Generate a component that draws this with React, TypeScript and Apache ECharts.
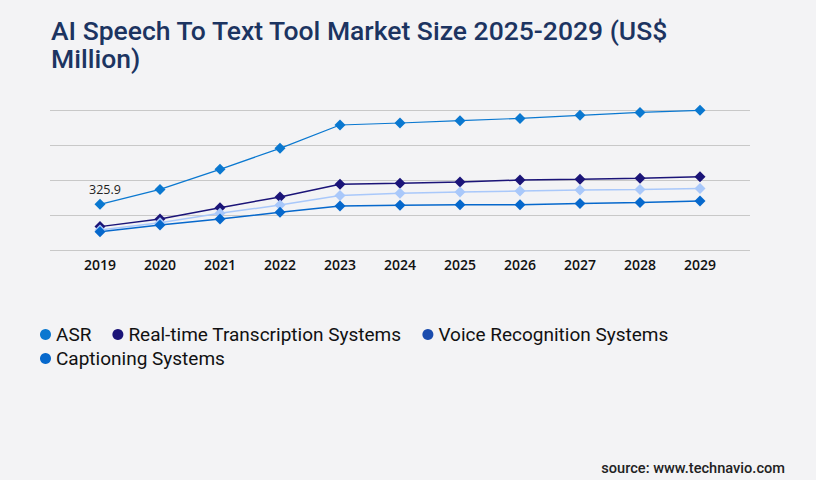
import React, { useEffect, useRef } from "react";
import * as echarts from "echarts";

const years = ["2019", "2020", "2021", "2022", "2023", "2024", "2025", "2026", "2027", "2028", "2029"];
const asr = [325.9, 433, 576, 726, 893, 907, 924, 940, 962, 983, 998];
const realTime = [167, 221, 302, 379, 469, 476, 486, 500, 505, 512, 524];
const voice = [143, 195, 262, 321, 390, 405, 414, 421, 429, 433, 440];
const captioning = [131, 179, 221, 269, 314, 319, 324, 324, 333, 340, 350];
const yTicks = [0, 250, 500, 750, 1000];

const seriesNames = ["ASR", "Real-time Transcription Systems", "Voice Recognition Systems", "Captioning Systems"];
const lineColors = ["#0a78d0", "#1b1478", "#a9c8fa", "#0668cc"];
const legendColors = ["#0a78d0", "#1b1478", "#1a4cae", "#0668cc"];

export default function App() {
  const ref = useRef<HTMLDivElement>(null);
  useEffect(() => {
    if (!ref.current) return;
    const chart = echarts.init(ref.current, undefined, { renderer: "svg" });
    const values = [asr, realTime, voice, captioning];
    const series = values.map((vals, i) => ({
      name: seriesNames[i],
      type: "line",
      xAxisIndex: 1,
      yAxisIndex: 1,
      symbol: "diamond",
      symbolSize: 11,
      lineStyle: { width: i === 0 ? 1.2 : 1.5, color: lineColors[i] },
      itemStyle: { color: lineColors[i] },
      data: vals.map((v, j) =>
        i === 0 && j === 0
          ? {
              value: v,
              label: {
                show: true,
                position: "top",
                distance: 3,
                offset: [5, 0],
                fontFamily: "Open Sans",
                fontSize: 12.5,
                color: "#222",
              },
            }
          : v
      ),
    }));
    const legendText = { fontFamily: "Roboto", fontSize: 19, color: "#111" };
    chart.setOption({
      animation: false,
      backgroundColor: "#f3f3f5",
      title: [
        {
          text: "AI Speech To Text Tool Market Size 2025-2029 (US$\nMillion)",
          left: 46,
          top: 11,
          textStyle: {
            fontFamily: "Roboto",
            fontSize: 26.5,
            fontWeight: 500,
            color: "#1c3461",
            lineHeight: 28,
          },
        },
        {
          text: "source: www.technavio.com",
          right: 26,
          top: 455,
          textStyle: { fontFamily: "Roboto", fontSize: 14.6, fontWeight: 500, color: "#222" },
        },
      ],
      legend: [
        {
          data: seriesNames.slice(0, 3).map((n, i) => ({ name: n, itemStyle: { color: legendColors[i] } })),
          left: 35,
          top: 320,
          icon: "circle",
          itemWidth: 11,
          itemHeight: 11,
          itemGap: 21,
          textStyle: legendText,
        },
        {
          data: [{ name: seriesNames[3], itemStyle: { color: legendColors[3] } }],
          left: 35,
          top: 344,
          icon: "circle",
          itemWidth: 11,
          itemHeight: 11,
          textStyle: legendText,
        },
      ],
      grid: [
        { left: 50, right: 66, top: 110, bottom: 230 },
        { left: 70, right: 86, top: 110, bottom: 230 },
      ],
      xAxis: [
        { type: "category", gridIndex: 0, data: years, show: false },
        {
          type: "category",
          gridIndex: 1,
          data: years,
          boundaryGap: true,
          axisLine: { show: false },
          axisTick: { show: false },
          axisLabel: { fontFamily: "Open Sans", fontSize: 14, fontWeight: 600, color: "#111", margin: 7 },
        },
      ],
      yAxis: [
        {
          type: "value",
          gridIndex: 0,
          min: yTicks[0],
          max: yTicks[yTicks.length - 1],
          interval: yTicks[1] - yTicks[0],
          axisLabel: { show: false },
          axisLine: { show: false },
          axisTick: { show: false },
          splitLine: { lineStyle: { color: "#c8c8c8", width: 1 } },
        },
        {
          type: "value",
          gridIndex: 1,
          min: yTicks[0],
          max: yTicks[yTicks.length - 1],
          interval: yTicks[1] - yTicks[0],
          show: false,
          splitLine: { show: false },
        },
      ],
      series,
    });
    return () => chart.dispose();
  }, []);
  return <div ref={ref} style={{ position: "fixed", left: 0, top: 0, width: 816, height: 480 }} />;
}
